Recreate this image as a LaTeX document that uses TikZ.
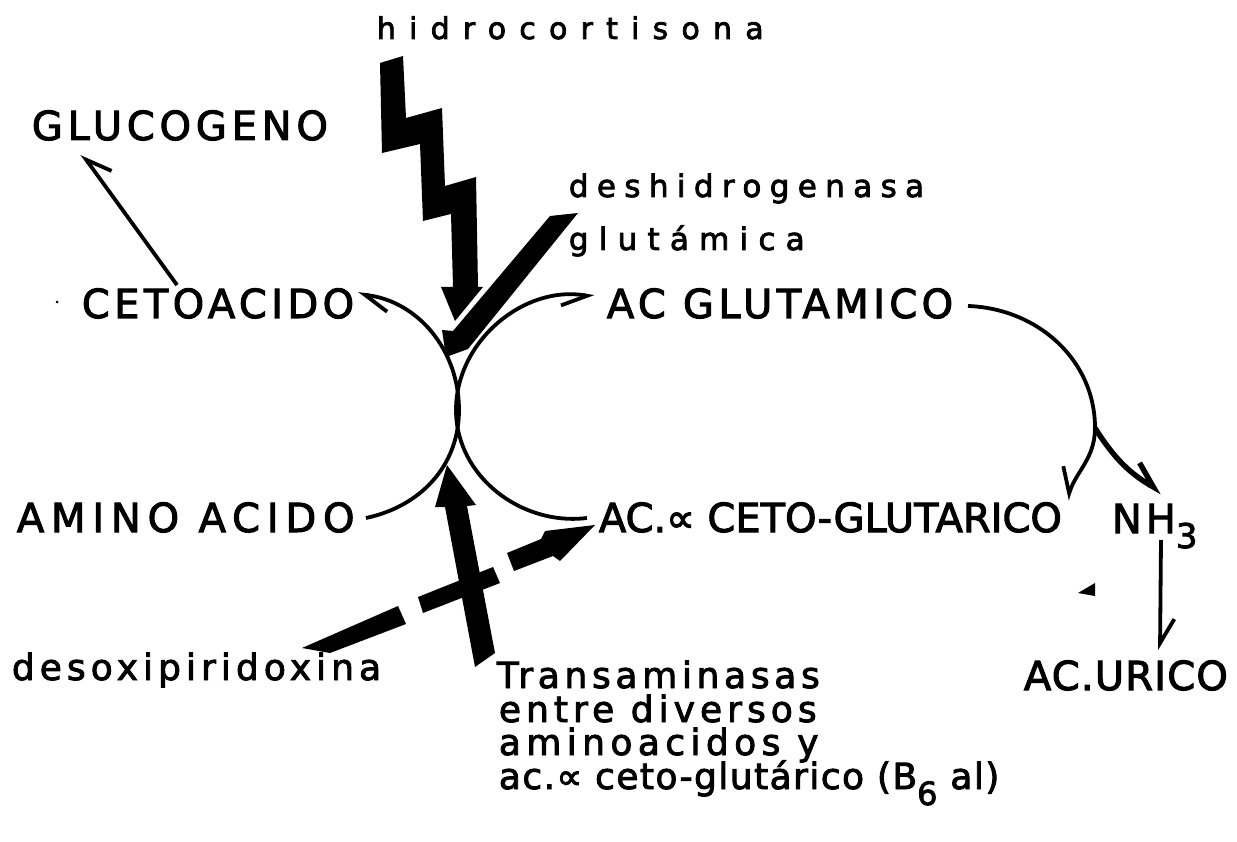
\documentclass[tikz,border=0pt]{standalone}
\usepackage{fontspec}
\setmainfont{DejaVu Sans}[FakeBold=2.5]
\usetikzlibrary{arrows.meta}
\newcommand{\ls}[1]{\addfontfeatures{LetterSpace=#1}}

\begin{document}
\begin{tikzpicture}[x=1pt, y=1pt, line width=3.8pt,
  every node/.style={inner sep=0pt, anchor=base west},
  caps/.style={font=\fontsize{40}{40}\selectfont},
  low/.style={font=\fontsize{#1}{#1}\selectfont}, low/.default=36,
  barbl/.style={-{Straight Barb[left,length=24pt,width=28pt]}},
  barbr/.style={-{Straight Barb[right,length=24pt,width=28pt]}}]
\useasboundingbox (0,0) rectangle (1237,-842);

\node[low=30] (hidro) at (375,-39) {\ls{44}hidrocortisona};
\node[caps] (gluco) at (30,-140) {\ls{12}GLUCOGENO};
\node[low=31] (dh1) at (567,-197) {\ls{27}deshidrogenasa};
\node[low=31] (dh2) at (567,-250) {\ls{33}glutámica};
\node[caps] (ceto) at (80,-318) {\ls{11}CETOACIDO};
\node[caps] (glut) at (605,-318) {\ls{11}AC GLUTAMICO};
\node[caps] (amino) at (15,-532) {\ls{17}AMINO ACIDO};
\node[caps] (keto) at (597,-532) {AC.∝ CETO-GLUTARICO};
\node[caps] (nh3) at (1110,-533) {\ls{10}NH\raisebox{-15pt}{\fontsize{34}{34}\selectfont 3}};
\node[caps] (urico) at (1022,-690) {\ls{3}AC.URICO};
\node[low] (desoxi) at (10,-680) {\ls{14}desoxipiridoxina};
\node[low] (tr1) at (495,-688) {\ls{13}Transaminasas};
\node[low] (tr2) at (497,-722) {\ls{14}entre diversos};
\node[low] (tr3) at (497,-755) {\ls{15}aminoacidos y};
\node[low] (tr4) at (497,-789) {\ls{4}ac.∝ ceto-glutárico (B\raisebox{-16pt}{\fontsize{32}{32}\selectfont 6} al)};

\coordinate (cetoE) at (358,-294);
\coordinate (cetoN) at (177,-285);
\coordinate (glucoS) at (82,-154);
\coordinate (glutW) at (594,-297);
\coordinate (glutE) at (968,-306);
\coordinate (aminoE) at (366,-518);
\coordinate (ketoW) at (587,-518);
\coordinate (ketoE) at (1067,-500);
\coordinate (touchL) at (459,-410);
\coordinate (touchR) at (456,-410);
\coordinate (loopR) at (1095,-428);
\coordinate (nh3W) at (1162,-492);
\coordinate (nh3S) at (1161,-540);
\coordinate (uricoN) at (1160,-650);

\draw[barbl] (aminoE) to[out=12,in=-90] (touchL) to[out=90,in=-7] (cetoE);
\draw[barbr] (ketoW) to[out=187,in=-90] (touchR) to[out=90,in=170] (glutW);
\draw[barbr] (cetoN) -- (glucoS);
\draw[barbr] (glutE) to[out=-2,in=90] (loopR) to[out=-90,in=72] (ketoE);
\draw[barbl, line width=5.4pt] (loopR) to[out=-58,in=150] (nh3W);
\draw[barbl] (nh3S) -- (uricoN);

\fill (380,-63) -- (403,-56) -- (406,-118) -- (442,-108) -- (445,-186) -- (476,-177)
  -- (478,-287) -- (483,-287) -- (455,-321) -- (441,-287) -- (453,-287) -- (451,-214)
  -- (423,-221) -- (420,-144) -- (382,-153) -- cycle;
\fill (550,-216) -- (578,-213) -- (468,-349) -- (446,-357) -- (442,-330) -- (453,-331) -- cycle;
\fill (447,-465) -- (476,-505) -- (467,-506) -- (495,-653) -- (475,-667) -- (445,-507) -- (435,-507) -- cycle;
\fill (302,-648) -- (398,-606) -- (406,-624) -- (330,-653) -- cycle;
\fill (418,-597) -- (493,-567) -- (500,-583) -- (423,-613) -- cycle;
\fill (507,-553) -- (541,-539) -- (545,-531) -- (595,-525) -- (560,-561) -- (553,-556) -- (514,-571) -- cycle;
\fill (1078,-593) -- (1095,-583) -- (1095,-596) -- cycle;
\fill (57,-302) circle (1.5);
\end{tikzpicture}
\end{document}
